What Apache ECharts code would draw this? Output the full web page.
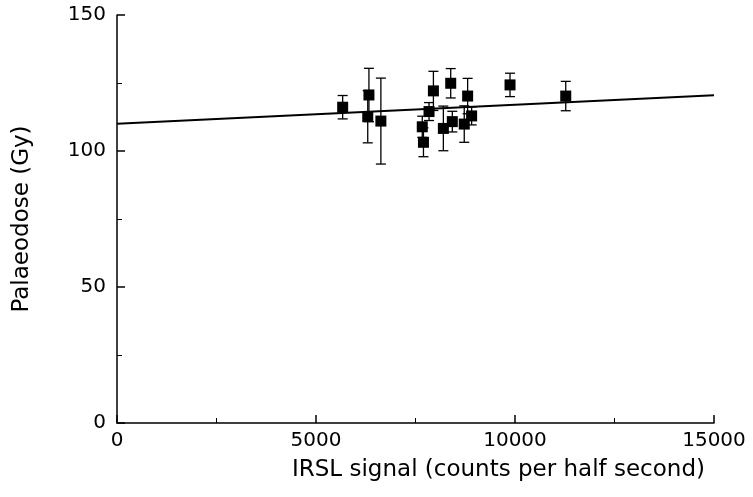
<!DOCTYPE html>
<html>
<head>
<meta charset="utf-8">
<script src="https://cdn.jsdelivr.net/npm/echarts@6/dist/echarts.min.js"></script>
<style>html,body{margin:0;padding:0;background:#fff}#c{width:753px;height:497px}</style>
</head>
<body>
<div id="c"></div>
<script>
var irsl = [5670, 6330, 6300, 6630, 7840, 7950, 7670, 7700, 8200, 8385, 8425, 8810, 8725, 8910, 9875, 11275];
var dose = [116.1, 120.6, 112.6, 111.0, 114.5, 122.1, 108.9, 103.2, 108.3, 124.9, 110.8, 120.2, 109.9, 112.9, 124.3, 120.2];
var doseErr = [4.3, 9.8, 9.6, 15.8, 3.3, 7.2, 3.9, 5.3, 8.2, 5.4, 3.8, 6.5, 6.7, 3.3, 4.3, 5.4];
var fitX = [0, 15000];
var fitY = [110, 120.5];

var pts = irsl.map(function(x,i){return [x, dose[i]];});
var errData = irsl.map(function(x,i){return [x, dose[i]-doseErr[i], dose[i]+doseErr[i]];});
var fitData = fitX.map(function(x,i){return [x, fitY[i]];});
var font = 'DejaVu Sans';
var chart = echarts.init(document.getElementById('c'));
chart.setOption({
  animation:false,
  backgroundColor:'#fff',
  grid:{left:117, right:39, top:15, bottom:74},
  xAxis:{type:'value', min:0, max:15000, interval:5000,
    name:'IRSL signal (counts per half second)', nameLocation:'middle', nameGap:36,
    nameTextStyle:{fontFamily:font, fontSize:23, color:'#000', padding:[0,0,0,166]},
    axisLine:{lineStyle:{color:'#000', width:1.5}},
    axisTick:{inside:true, length:8, lineStyle:{color:'#000', width:1.5}},
    minorTick:{show:true, splitNumber:2, length:5, lineStyle:{color:'#000', width:1}},
    axisLabel:{fontFamily:font, fontSize:20, color:'#000', margin:8, formatter:function(v){return String(v);}},
    splitLine:{show:false}},
  yAxis:{type:'value', min:0, max:150, interval:50,
    name:'Palaeodose (Gy)', nameLocation:'middle', nameGap:83, nameRotate:90,
    nameTextStyle:{fontFamily:font, fontSize:23, color:'#000'},
    axisLine:{lineStyle:{color:'#000', width:1.5}},
    axisTick:{inside:true, length:8, lineStyle:{color:'#000', width:1.5}},
    minorTick:{show:true, splitNumber:2, length:5, lineStyle:{color:'#000', width:1}},
    axisLabel:{fontFamily:font, fontSize:20, color:'#000', margin:11},
    splitLine:{show:false}},
  series:[
    {type:'line', data:fitData, symbol:'none', lineStyle:{color:'#000', width:2}, z:2},
    {type:'custom', data:errData, z:3,
      renderItem:function(params, api){
        var x = api.value(0);
        var lo = api.coord([x, api.value(1)]);
        var hi = api.coord([x, api.value(2)]);
        var w = 5;
        var st = {stroke:'#000', lineWidth:1.3};
        return {type:'group', children:[
          {type:'line', shape:{x1:lo[0], y1:lo[1], x2:hi[0], y2:hi[1]}, style:st},
          {type:'line', shape:{x1:lo[0]-w, y1:lo[1], x2:lo[0]+w, y2:lo[1]}, style:st},
          {type:'line', shape:{x1:hi[0]-w, y1:hi[1], x2:hi[0]+w, y2:hi[1]}, style:st}
        ]};
      }},
    {type:'scatter', data:pts, symbol:'rect', symbolSize:11, itemStyle:{color:'#000', opacity:1}, z:4}
  ]
});
</script>
</body>
</html>
